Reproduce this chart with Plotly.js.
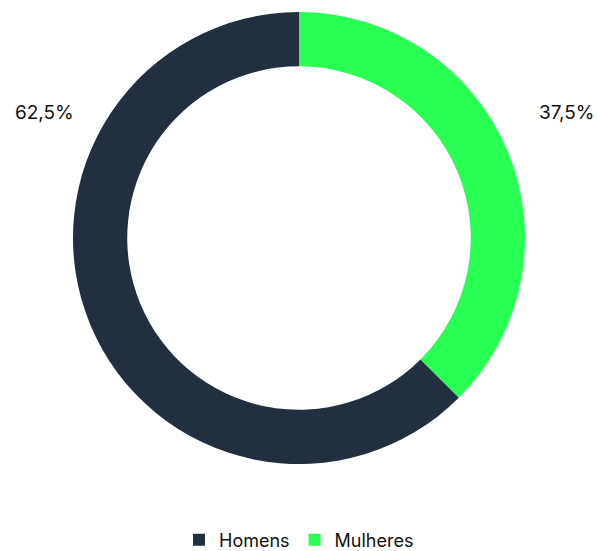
<!DOCTYPE html>
<html>
<head>
<meta charset="utf-8">
<script src="https://cdn.plot.ly/plotly-3.0.1.min.js"></script>
<style>html,body{margin:0;padding:0;background:#fff;}#chart{width:597px;height:551px;}</style>
</head>
<body>
<div id="chart"></div>
<script>
const labels = ["Mulheres", "Homens"];
const values = [37.5, 62.5];
const colors = ["#29ff52", "#222f3f"];

const fmt = v => v.toFixed(1).replace(".", ",") + "%";

const trace = {
  type: "pie",
  labels: labels,
  values: values,
  hole: 0.76,
  sort: false,
  direction: "clockwise",
  rotation: 0,
  marker: {colors: colors, line: {width: 0}},
  textinfo: "none",
  hoverinfo: "label+percent"
};

const layout = {
  width: 597,
  height: 551,
  margin: {l: 73, r: 72, t: 12, b: 87, autoexpand: false},
  paper_bgcolor: "#fff",
  plot_bgcolor: "#fff",
  font: {family: "Inter, 'Noto Sans', sans-serif", color: "#111"},
  showlegend: true,
  legend: {
    orientation: "h",
    x: 0.5, xanchor: "center",
    y: -0.168, yanchor: "middle",
    font: {size: 18, color: "#111"},
    traceorder: "reversed"
  },
  annotations: [
    {text: fmt(values[1]), xref: "paper", yref: "paper", x: -0.064, xanchor: "center", yanchor: "middle", showarrow: false, font: {size: 19, color: "#111"}},
    {text: fmt(values[0]), xref: "paper", yref: "paper", x: 1.094, xanchor: "center", yanchor: "middle", showarrow: false, font: {size: 19, color: "#111"}}
  ]
};
// label vertical position: y=111px -> paper (464-111)/452
layout.annotations.forEach(a => a.y = (464 - 112) / 452);

Plotly.newPlot("chart", [trace], layout, {displayModeBar: false, staticPlot: true});
</script>
</body>
</html>
